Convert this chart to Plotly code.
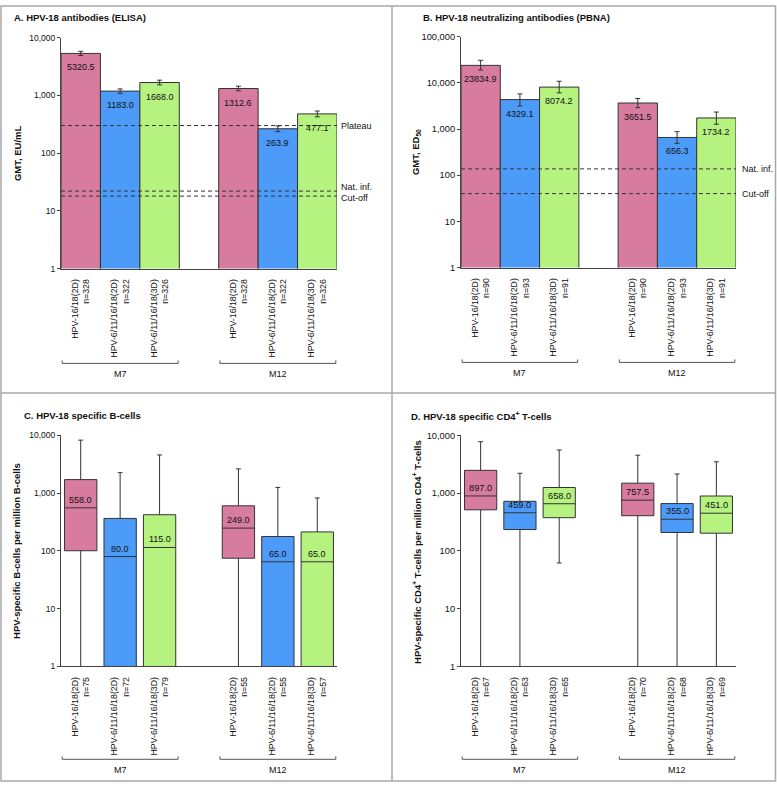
import math
import plotly.graph_objects as go

# ---------------- data ----------------
groups = ["M7", "M12"]
vaccines = ["HPV-16/18(2D)", "HPV-6/11/16/18(2D)", "HPV-6/11/16/18(3D)"]
colors = ["#D77C9F", "#4C9BF8", "#B6F27F"]
xpos = [0, 1, 2, 4, 5, 6]          # 3 bars per time point with a gap slot between
group_center = [1, 5]

# A. ELISA GMT with 95% CI
a_n = [328, 322, 326, 328, 322, 326]
a_gmt = [5320.5, 1183.0, 1668.0, 1312.6, 263.9, 477.1]
a_lo = [4900, 1080, 1520, 1200, 235, 425]
a_hi = [5780, 1290, 1830, 1440, 295, 535]
a_ref_names = ["Plateau", "Nat. inf.", "Cut-off"]
a_ref_vals = [300, 22, 18]

# B. PBNA GMT with 95% CI
b_n = [90, 93, 91, 90, 93, 91]
b_gmt = [23834.9, 4329.1, 8074.2, 3651.5, 656.3, 1734.2]
b_lo = [18900, 3150, 6060, 2900, 490, 1270]
b_hi = [30700, 5760, 10800, 4570, 875, 2330]
b_ref_names = ["Nat. inf.", "Cut-off"]
b_ref_vals = [137, 40]

# C. B-cells (box plots)
c_n = [75, 72, 79, 55, 55, 57]
c_med = [558.0, 80.0, 115.0, 249.0, 65.0, 65.0]
c_q1 = [101, 1, 1, 75, 1, 1]
c_q3 = [1720, 366, 424, 605, 178, 214]
c_min = [1, 1, 1, 1, 1, 1]
c_max = [8300, 2270, 4600, 2640, 1260, 828]

# D. CD4+ T-cells (box plots)
d_n = [67, 63, 65, 70, 68, 69]
d_med = [897.0, 459.0, 658.0, 757.5, 355.0, 451.0]
d_q1 = [516, 235, 377, 408, 209, 203]
d_q3 = [2490, 724, 1256, 1494, 662, 895]
d_min = [1, 1, 62, 1, 1, 1]
d_max = [7800, 2215, 5610, 4550, 2155, 3500]

# ---------------- layout helpers ----------------
W, H = 777, 788
FONT = "Liberation Sans, Arial, sans-serif"
TXT = "#111111"
LINE = "#444444"


def px(x):
    return x / W


def py(y):
    return 1 - y / H


# panel plot areas in pixels: left, right, top, bottom
panels = {
    "A": dict(ax="", box=(61, 337, 33, 267), yr=[0, 4], tf=8.5),
    "B": dict(ax="2", box=(461, 736, 32, 266), yr=[0, 5], tf=9.3),
    "C": dict(ax="3", box=(61, 337, 436, 670), yr=[0, 4], tf=8.5),
    "D": dict(ax="4", box=(461, 736, 436, 670), yr=[0, 4], tf=9.3),
}
ns = {"A": a_n, "B": b_n, "C": c_n, "D": d_n}

fig = go.Figure()
shapes = []
annotations = []
layout_axes = {}

for key, p in panels.items():
    l, r, t, b = p["box"]
    ax = p["ax"]
    ticktext = [f"{vaccines[i % 3]}<br>n={n}" for i, n in enumerate(ns[key])]
    nmax = p["yr"][1]
    yt = [10 ** k for k in range(0, nmax + 1)]
    layout_axes["xaxis" + ax] = dict(
        domain=[px(l), px(r)], range=[-0.5, 6.5], anchor="y" + ax,
        showline=True, linecolor=LINE, linewidth=1, ticks="",
        tickmode="array", tickvals=xpos, ticktext=ticktext, tickangle=-90,
        tickfont=dict(size=8.8, color=TXT, family=FONT), ticklabelstandoff=6,
        showgrid=False, zeroline=False, fixedrange=True,
    )
    layout_axes["yaxis" + ax] = dict(
        domain=[py(b), py(t)], type="log", range=p["yr"], anchor="x" + ax,
        showline=True, linecolor=LINE, linewidth=1, ticks="outside", ticklen=3,
        tickcolor=LINE, tickmode="array", tickvals=yt,
        ticktext=[f"{v:,}" for v in yt],
        tickfont=dict(size=p["tf"], color=TXT, family=FONT),
        showgrid=False, zeroline=False, fixedrange=True,
    )
    # brackets and group labels
    yb = b + 96 if key in ("A", "B") else b + 94
    for gi, gc in enumerate(group_center):
        x0, x1 = gc - 1.47, gc + 1.47
        shapes.append(dict(
            type="path", xref="x" + ax, yref="paper",
            path=f"M {x0},{py(yb - 3)} L {x0},{py(yb)} L {x1},{py(yb)} L {x1},{py(yb - 3)}",
            line=dict(color="#555555", width=1)))
        annotations.append(dict(
            xref="x" + ax, yref="paper", x=gc, y=py(yb + 11), text=groups[gi],
            showarrow=False, xanchor="center", yanchor="middle",
            font=dict(size=9, color=TXT, family=FONT)))

# ---------------- A & B: bar charts ----------------
bar_sets = [("", a_gmt, a_lo, a_hi, a_ref_names, a_ref_vals, 2),
            ("2", b_gmt, b_lo, b_hi, b_ref_names, b_ref_vals, 4)]
for ax, gmt, lo, hi, rnames, rvals, lshift in bar_sets:
    fig.add_trace(go.Bar(
        x=xpos, y=gmt, width=1,
        marker=dict(color=colors * 2, line=dict(color="#333333", width=1)),
        error_y=dict(type="data", symmetric=False,
                     array=[h - g for h, g in zip(hi, gmt)],
                     arrayminus=[g - lo_ for g, lo_ in zip(gmt, lo)],
                     color="#333333", thickness=1, width=2.5),
        xaxis="x" + ax, yaxis="y" + ax, showlegend=False, hoverinfo="skip"))
    for xv, g in zip(xpos, gmt):
        annotations.append(dict(
            xref="x" + ax, yref="y" + ax, x=xv, y=math.log10(g), text=f"{g:.1f}",
            showarrow=False, xanchor="center", yanchor="top", yshift=-7,
            font=dict(size=9, color=TXT, family=FONT)))
    for i, (nm, v) in enumerate(zip(rnames, rvals)):
        fig.add_trace(go.Scatter(
            x=[-0.5, 6.5], y=[v, v], mode="lines",
            line=dict(color="#333333", width=1, dash="4px,3px"),
            xaxis="x" + ax, yaxis="y" + ax, showlegend=False, hoverinfo="skip"))
        ys = 0
        if ax == "" and nm == "Nat. inf.":
            ys = 4
        if ax == "" and nm == "Cut-off":
            ys = -2
        annotations.append(dict(
            xref=f"x{ax} domain", yref="y" + ax, x=1, y=math.log10(v), text=nm,
            showarrow=False, xanchor="left", yanchor="middle", xshift=lshift, yshift=ys,
            font=dict(size=9, color=TXT, family=FONT)))

# ---------------- C & D: box plots ----------------
box_sets = [("3", c_med, c_q1, c_q3, c_min, c_max),
            ("4", d_med, d_q1, d_q3, d_min, d_max)]
for ax, med, q1, q3, mn, mx in box_sets:
    for i, xv in enumerate(xpos):
        fig.add_trace(go.Box(
            x=[xv], q1=[q1[i]], median=[med[i]], q3=[q3[i]],
            lowerfence=[mn[i]], upperfence=[mx[i]],
            fillcolor=colors[i % 3], line=dict(color="#333333", width=1),
            width=0.82, whiskerwidth=0.15, boxpoints=False,
            xaxis="x" + ax, yaxis="y" + ax, showlegend=False, hoverinfo="skip"))
        annotations.append(dict(
            xref="x" + ax, yref="y" + ax, x=xv, y=math.log10(med[i]), text=f"{med[i]:.1f}",
            showarrow=False, xanchor="center", yanchor="bottom", yshift=1,
            font=dict(size=9.3 if ax == "4" else 9, color=TXT, family=FONT)))

# ---------------- titles ----------------
titles = [
    (12, 13, "A. HPV-18 antibodies (ELISA)"),
    (421, 12.5, "B. HPV-18 neutralizing antibodies (PBNA)"),
    (22, 416, "C. HPV-18 specific B-cells"),
    (409, 416, "D. HPV-18 specific CD4<sup>+</sup> T-cells"),
]
for x, y, t in titles:
    annotations.append(dict(
        xref="paper", yref="paper", x=px(x), y=py(y), text=f"<b>{t}</b>",
        showarrow=False, xanchor="left", yanchor="middle",
        font=dict(size=9.5, color=TXT, family=FONT)))

ytitles = [
    (17, 150, "GMT, EU/mL"),
    (416, 149, "GMT, ED<sub>50</sub>"),
    (17, 553, "HPV-specific B-cells per million B-cells"),
    (417, 554, "HPV-specific CD4<sup>+</sup> T-cells per million CD4<sup>+</sup> T-cells"),
]
for x, y, t in ytitles:
    annotations.append(dict(
        xref="paper", yref="paper", x=px(x), y=py(y), text=f"<b>{t}</b>",
        showarrow=False, xanchor="center", yanchor="middle", textangle=-90,
        font=dict(size=9.5, color=TXT, family=FONT)))

# ---------------- frame ----------------
FR = "#A8A8A8"
shapes += [
    dict(type="rect", xref="paper", yref="paper", x0=px(1), x1=px(775.5), y0=py(786), y1=py(1),
         line=dict(color=FR, width=1.5)),
    dict(type="line", xref="paper", yref="paper", x0=px(392), x1=px(392), y0=py(786), y1=py(1),
         line=dict(color=FR, width=1.5)),
    dict(type="line", xref="paper", yref="paper", x0=px(1), x1=px(775.5), y0=py(393), y1=py(393),
         line=dict(color=FR, width=1.5)),
]

fig.update_layout(
    width=W, height=H, margin=dict(l=0, r=0, t=0, b=0),
    paper_bgcolor="white", plot_bgcolor="white",
    font=dict(family=FONT, color=TXT, size=9),
    showlegend=False, bargap=0, boxgap=0,
    shapes=shapes, annotations=annotations,
    **layout_axes,
)

fig.write_html(
    "out.html",
    config={"displayModeBar": False, "staticPlot": True},
    post_script="document.body.style.margin='0';document.body.style.padding='0';"
                "document.documentElement.style.overflow='hidden';"
                "document.body.style.overflow='hidden';",
)
